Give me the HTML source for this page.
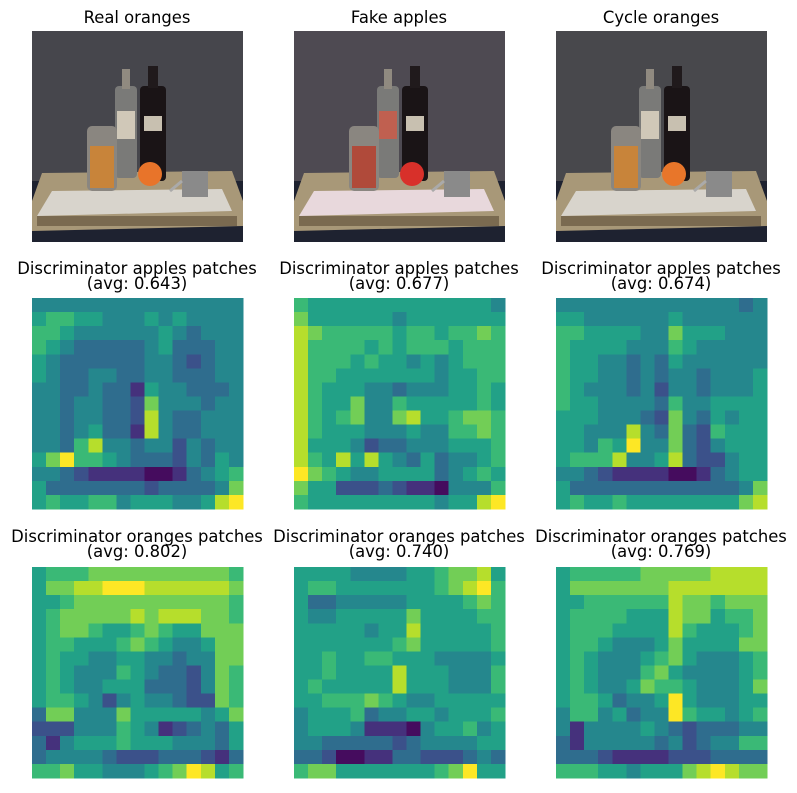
<!DOCTYPE html>
<html><head><meta charset="utf-8">
<style>
body{margin:0;background:#fff;width:797px;height:789px;overflow:hidden;font-family:"DejaVu Sans","Liberation Sans",sans-serif;}
svg text{font-family:"DejaVu Sans","Liberation Sans",sans-serif;font-size:16.4px;fill:#000;}
</style></head>
<body>
<svg id="fig" width="797" height="789" viewBox="0 0 797 789"></svg>
<script>
const panelX=[32,294,556];
const photoTitles=["Real oranges","Fake apples","Cycle oranges"];
const rowTitles=["Discriminator apples patches","Discriminator oranges patches"];
const avgLabels=[["0.643","0.677","0.674"],["0.802","0.740","0.769"]];
const hmA=["444444444444444","566554445454444","665444444543444","654333334533344","543333334432344","543344334433344","443343315443334","443443327444344","443443328433444","443453318433444","443684434424344","579665433324354","443211110013456","533333332333347","565566455544589"];
const hmB=["655555555555554","755555545555555","876666656656676","866665656665666","866656554545666","866555555545566","865554434445565","865574465555565","865674478556776","865554445446676","855542334445556","865858543534456","976544555534565","755222321104446","655555555545589"];
const hmC=["444444444444434","554444445444444","665555447555444","655554446544444","655443435444444","655443434434445","654443424434445","655444436445555","555444327435455","554448437326555","554659447324555","566684458322455","443211110013455","533333333333347","565565555555578"];
const hmD=["566677777777776","577889998888887","556777777777776","567777787888776","567765567655777","566555676544577","565544554434477","565444654332476","565445553332476","566542454432276","377444755555457","222444654123435","314555655544435","344443222333213","667554445679856"];
const hmE=["555544445567785","566555555567896","533444445555676","544555557555566","555554558555556","555555567555556","556556655544445","556555585554446","565555585554446","556667654455555","455563445545556","455541110455645","443333323444455","332001133222343","677555555567955"];
const hmF=["566666777778888","577777778888888","556666668776777","566665558775667","566655558655567","566544457555577","565444567544456","565444675444456","565445766544457","566534459544455","466453449655456","414444543233344","314444434234466","333211112223333","666554555789877"];
const heatmaps=[[hmA,hmB,hmC],[hmD,hmE,hmF]];
const NS="http://www.w3.org/2000/svg";
const svg=document.getElementById('fig');
function mk(tag,attrs,parent){const e=document.createElementNS(NS,tag);for(const k in attrs)e.setAttribute(k,attrs[k]);(parent||svg).appendChild(e);return e;}
const vir=[[68,1,84],[72,40,120],[62,74,137],[49,104,142],[38,130,142],[31,158,137],[53,183,121],[109,205,89],[180,222,44],[253,231,37]];
function viridis(t){t=Math.max(0,Math.min(1,t))*9;const i=Math.min(8,Math.floor(t)),f=t-i;const a=vir[i],b=vir[i+1];return `rgb(${a.map((v,k)=>Math.round(v+(b[k]-v)*f)).join(',')})`;}
function text(x,y,s,name){const t=mk('text',{x:x,y:y,'text-anchor':'middle'});t.textContent=s;

return t;}
const photoY=31,S=211;
const fruitColors=["#e8742a","#d8302a","#e8762a"];
const jarColors=["#c8843a","#b04a3a","#c8843a"];
const bgColors=["#46464c","#4e4a52","#48484c"];
for(let c=0;c<3;c++){
 const g=mk('g',{transform:`translate(${panelX[c]},${photoY})`});
 
 
 mk('rect',{x:0,y:0,width:S,height:S,fill:bgColors[c]},g);
 mk('rect',{x:0,y:150,width:S,height:61,fill:"#1e2230"},g);
 mk('polygon',{points:"10,142 200,140 211,170 211,195 0,200 0,170",fill:"#a89878"},g);
 mk('polygon',{points:"20,160 190,158 200,180 5,185",fill:c==1?"#e8d8dc":"#d8d4cc"},g);
 mk('rect',{x:5,y:185,width:200,height:10,fill:"#7a6a50"},g);
 mk('rect',{x:83,y:55,width:22,height:92,rx:4,fill:"#7a7a78"},g);
 mk('rect',{x:90,y:38,width:8,height:20,fill:"#908a80"},g);
 mk('rect',{x:85,y:80,width:18,height:28,fill:c==1?"#c06050":"#d0c8b8"},g);
 mk('rect',{x:108,y:55,width:26,height:95,rx:4,fill:"#1a1416"},g);
 mk('rect',{x:116,y:35,width:10,height:22,fill:"#201a1c"},g);
 mk('rect',{x:112,y:85,width:18,height:15,fill:"#c8c0b0"},g);
 mk('rect',{x:55,y:95,width:30,height:65,rx:5,fill:"#8a8680"},g);
 mk('rect',{x:58,y:115,width:24,height:42,fill:jarColors[c]},g);
 mk('circle',{cx:118,cy:143,r:12,fill:fruitColors[c]},g);
 mk('rect',{x:150,y:140,width:26,height:26,fill:"#8a8a8a"},g);
 mk('line',{x1:150,y1:150,x2:138,y2:160,stroke:"#aaa","stroke-width":3},g);
 text(panelX[c]+105,23,photoTitles[c],'photo-title-'+c);
}
const hmY=[298,567];
for(let r=0;r<2;r++){
 for(let c=0;c<3;c++){
  const grid=heatmaps[r][c];
  const g=mk('g',{transform:`translate(${panelX[c]},${hmY[r]})`,'shape-rendering':'crispEdges'});
  
  
  const n=grid.length,cs=S/n;
  grid.forEach((row,i)=>{for(let j=0;j<row.length;j++){
   mk('rect',{x:(j*cs).toFixed(2),y:(i*cs).toFixed(2),width:(cs+0.5).toFixed(2),height:(cs+0.5).toFixed(2),fill:viridis((+row[j]+0.3)/9.3)},g);
  }});
  const ty=r==0?274:542;
  text(panelX[c]+105,ty,rowTitles[r],'heatmap-title-'+r+'-'+c);
  text(panelX[c]+105,ty+15,`(avg: ${avgLabels[r][c]})`,'heatmap-avg-'+r+'-'+c);
 }
}
</script>
</body></html>
